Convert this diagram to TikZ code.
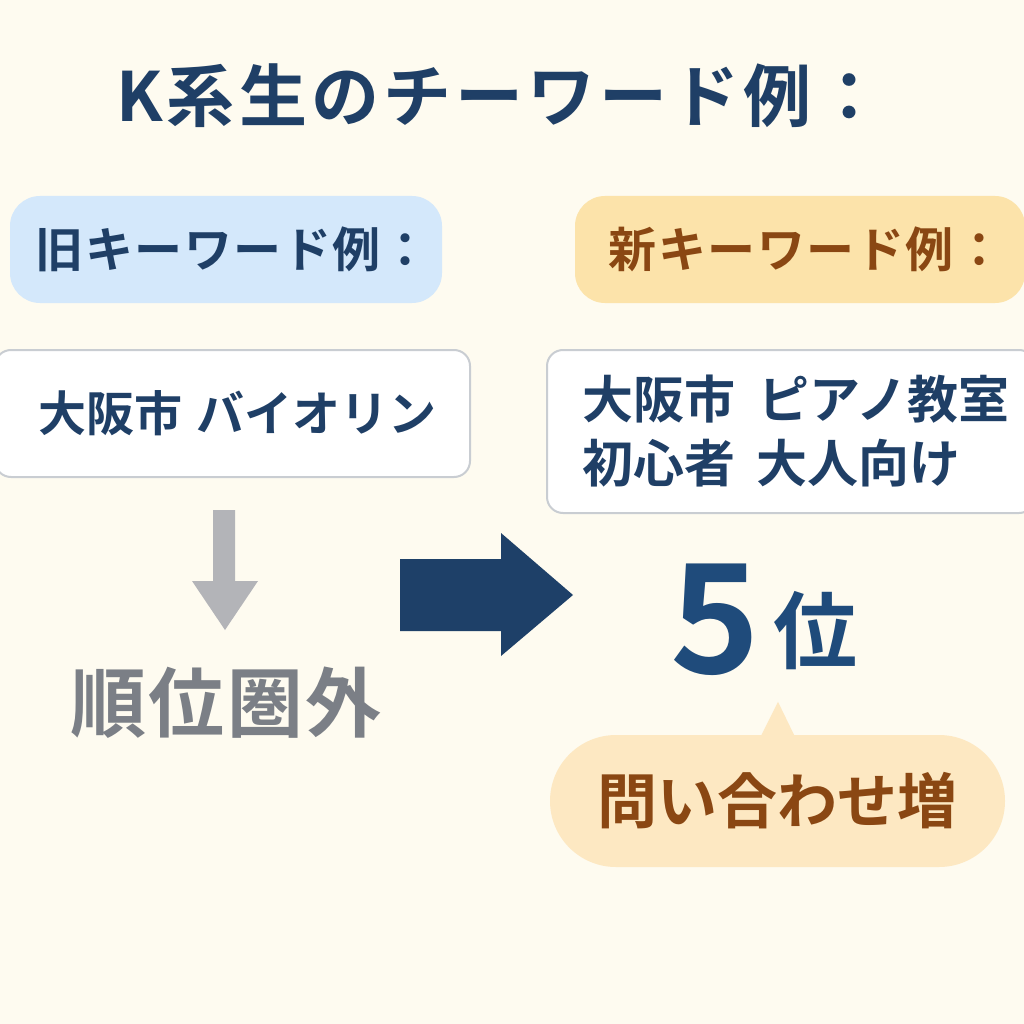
\documentclass[tikz,border=0pt]{standalone}
\usepackage{fontspec}
\usepackage{tikz}
\usepackage{xcolor}
\usetikzlibrary{calc}
\setmainfont{Noto Sans CJK JP}[BoldFont={Noto Sans CJK JP Bold}]

\definecolor{bgcream}{HTML}{FEFBF0}
\definecolor{navy}{HTML}{1F3F66}
\definecolor{navyarrow}{HTML}{1E4068}
\definecolor{rankblue}{HTML}{1F4B7B}
\definecolor{pillblue}{HTML}{D4E8FB}
\definecolor{pillorange}{HTML}{FCE3AA}
\definecolor{bubbleorange}{HTML}{FDE8C2}
\definecolor{brown}{HTML}{8A4713}
\definecolor{boxgray}{HTML}{C9CDD2}
\definecolor{arrowgray}{HTML}{B3B4B8}
\definecolor{textgray}{HTML}{7B7F86}

\begin{document}
\begin{tikzpicture}[x=1pt,y=-1pt]
        \tikzstyle{every node}=[inner sep=0pt, font=\bfseries]
        \tikzstyle{pillbox}=[rectangle, rounded corners=30pt, minimum width=432pt, minimum height=107pt, font=\fontsize{48}{56}\selectfont\bfseries\addfontfeature{LetterSpace=3}]
        \tikzstyle{keybox}=[rectangle, draw=boxgray, line width=2pt, fill=white, rounded corners=16pt, text=navy, font=\fontsize{48}{64}\selectfont\bfseries]
        \useasboundingbox (0,0) rectangle (1024,1024);
        \fill[bgcream] (0,0) rectangle (1024,1024);

        \node (11) at (500,122) [anchor=base, text=navy, font=\fontsize{68}{80}\selectfont\bfseries\addfontfeature{LetterSpace=6}] {K系生のチーワード例：};

        \node (12) at (226,249.5) [pillbox, fill=pillblue, text=navy] {\hspace{14pt}旧キーワード例：};
        \node (13) at (800,249.5) [pillbox, fill=pillorange, text=brown, minimum width=450pt] {\hspace{12pt}新キーワード例：};

        \node (14) at (232.5,413.5) [keybox, minimum width=475pt, minimum height=127pt] {\hspace{10pt}大阪市\hspace{0.3em}バイオリン};
        \node (15) at (791,431.5) [keybox, minimum width=488pt, minimum height=163pt, align=left, font=\fontsize{51}{64}\selectfont\bfseries] {\hspace{10pt}大阪市\hspace{0.45em}ピアノ教室\\\hspace{10pt}初心者\hspace{0.4em}大人向け};

        \fill[arrowgray] (213,510) -- (235,510) -- (235,581) -- (258,581) -- (225,630) -- (192,581) -- (213,581) -- cycle;
        \fill[navyarrow] (400,559) -- (501,559) -- (501,533) -- (573,595) -- (501,656) -- (501,631) -- (400,631) -- cycle;

        \node (16) at (226,731) [anchor=base, text=textgray, font=\fontsize{76}{80}\selectfont\bfseries\addfontfeature{LetterSpace=3}] {順位圏外};

        \node (17) at (715,673) [anchor=base, text=rankblue, font=\fontsize{152}{160}\selectfont\bfseries] {5};
        \node (18) at (815,662) [anchor=base, text=rankblue, font=\fontsize{84}{90}\selectfont\bfseries] {位};

        \node (19) at (777.5,801) [rectangle, fill=bubbleorange, rounded corners=66pt, minimum width=455pt, minimum height=132pt, text=brown, font=\fontsize{60}{66}\selectfont\bfseries] {問い合わせ増};
        \fill[bubbleorange] ($(19.north)+(-17,2)$) -- ($(19.north)+(0.5,-33)$) -- ($(19.north)+(17.5,2)$) -- cycle;
    \end{tikzpicture}
\end{document}
